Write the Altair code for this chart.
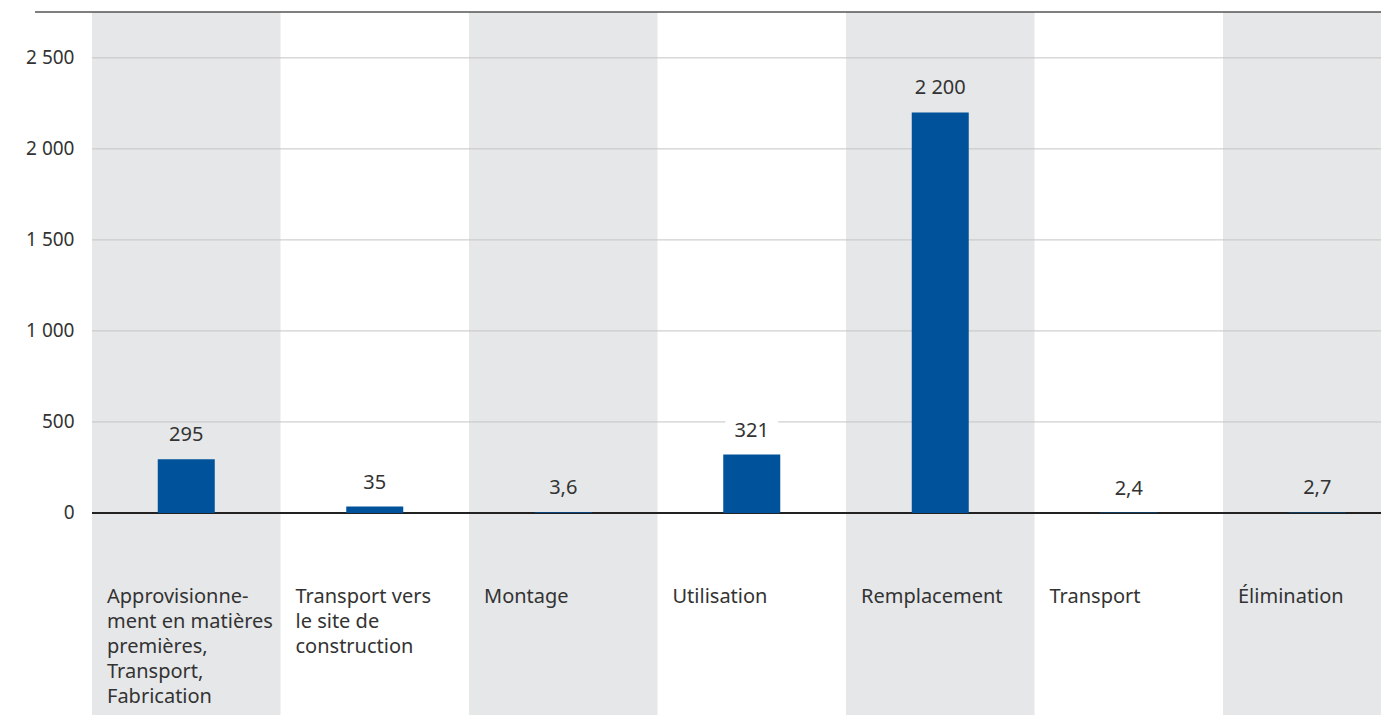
import altair as alt
import pandas as pd

categories = [
    ["Approvisionne-", "ment en matières", "premières,", "Transport,", "Fabrication"],
    ["Transport vers", " le site de", "construction"],
    ["Montage"],
    ["Utilisation"],
    ["Remplacement"],
    ["Transport"],
    ["Élimination"],
]
values = [295, 35, 3.6, 321, 2200, 2.4, 2.7]
value_labels = ["295", "35", "3,6", "321", "2 200", "2,4", "2,7"]
y_ticks = [0, 500, 1000, 1500, 2000, 2500]

FONT = "Noto Sans"
FS = 20
COL_PX = 188.5
W, H = 1289, 703
XMAX = W / COL_PX
YMIN, YMAX = -1110, 2752
half_bar = 57 / COL_PX / 2

rows = []
for i, (c, v, l) in enumerate(zip(categories, values, value_labels)):
    rows.append({
        "i": i, "x0": i, "x1": i + 1, "xc": i + 0.5,
        "bx0": i + 0.5 - half_bar, "bx1": i + 0.5 + half_bar,
        "tx": i + 15 / COL_PX,
        "cat": c, "value": v, "label": l,
        "bg": "#e6e7e9" if i % 2 == 0 else "#ffffff",
        "lb0": v + 65, "lb1": v + 195,
        "ymin": YMIN, "ymax": YMAX, "ycat": -495,
    })
df = pd.DataFrame(rows)

xs = alt.Scale(domain=[0, XMAX], nice=False, zero=False)
ys = alt.Scale(domain=[YMIN, YMAX], nice=False, zero=False)

base = alt.Chart(df)

bands = base.transform_filter("datum.i % 2 == 0").mark_rect(color="#e6e7e9", clip=True).encode(
    x=alt.X("x0:Q", scale=xs, axis=None),
    x2="x1:Q",
    y=alt.Y("ymin:Q", scale=ys,
            axis=alt.Axis(values=y_ticks, grid=False, domain=False, ticks=False,
                          labelExpr="replace(format(datum.value, ','), ',', ' ')",
                          labelFont=FONT, labelFontSize=FS - 1, labelColor="#333333",
                          labelPadding=18, title=None)),
    y2="ymax:Q",
)

grid_df = pd.DataFrame({"g": y_ticks[1:], "a": 0, "b": XMAX})
grid = alt.Chart(grid_df).mark_rule(color="#c4c4c4", strokeWidth=1).encode(
    x=alt.X("a:Q", scale=xs), x2="b:Q", y=alt.Y("g:Q", scale=ys)
)

lbl_box = base.transform_calculate(xl="datum.xc - 0.14", xr="datum.xc + 0.14").mark_rect(clip=True).encode(
    x=alt.X("xl:Q", scale=xs), x2="xr:Q",
    y=alt.Y("lb0:Q", scale=ys),
    y2="lb1:Q",
    color=alt.Color("bg:N", scale=None),
)

bars = base.mark_rect(color="#00529b", clip=True).encode(
    x=alt.X("bx0:Q", scale=xs), x2="bx1:Q",
    y=alt.Y("value:Q", scale=ys), y2=alt.datum(0),
)

zero_df = pd.DataFrame({"z": [0], "a": [0], "b": [XMAX]})
zero = alt.Chart(zero_df).mark_rule(color="#222222", strokeWidth=2).encode(
    x=alt.X("a:Q", scale=xs), x2="b:Q", y=alt.Y("z:Q", scale=ys)
)

top_df = pd.DataFrame({"t": [YMAX], "a": [-57 / COL_PX], "b": [XMAX]})
top = alt.Chart(top_df).mark_rule(color="#555555", strokeWidth=1.5).encode(
    x=alt.X("a:Q", scale=xs), x2="b:Q", y=alt.Y("t:Q", scale=ys)
)

vlabels = base.mark_text(font=FONT, fontSize=FS, color="#333333",
                         baseline="middle", align="center", dy=-24).encode(
    x=alt.X("xc:Q", scale=xs), y=alt.Y("value:Q", scale=ys), text="label:N"
)

clabels = base.mark_text(font=FONT, fontSize=FS, color="#333333", align="left",
                         baseline="alphabetic", lineHeight=25).encode(
    x=alt.X("tx:Q", scale=xs), y=alt.Y("ycat:Q", scale=ys), text="cat"
)

chart = alt.layer(bands, grid, lbl_box, zero, bars, top, vlabels, clabels).properties(
    width=W, height=H,
    autosize=alt.AutoSizeParams(type="none"),
    padding={"left": 84, "top": 4, "right": 0, "bottom": 0},
).configure_view(stroke=None)

chart.save("out.html", embed_options={"renderer": "svg", "actions": False})
